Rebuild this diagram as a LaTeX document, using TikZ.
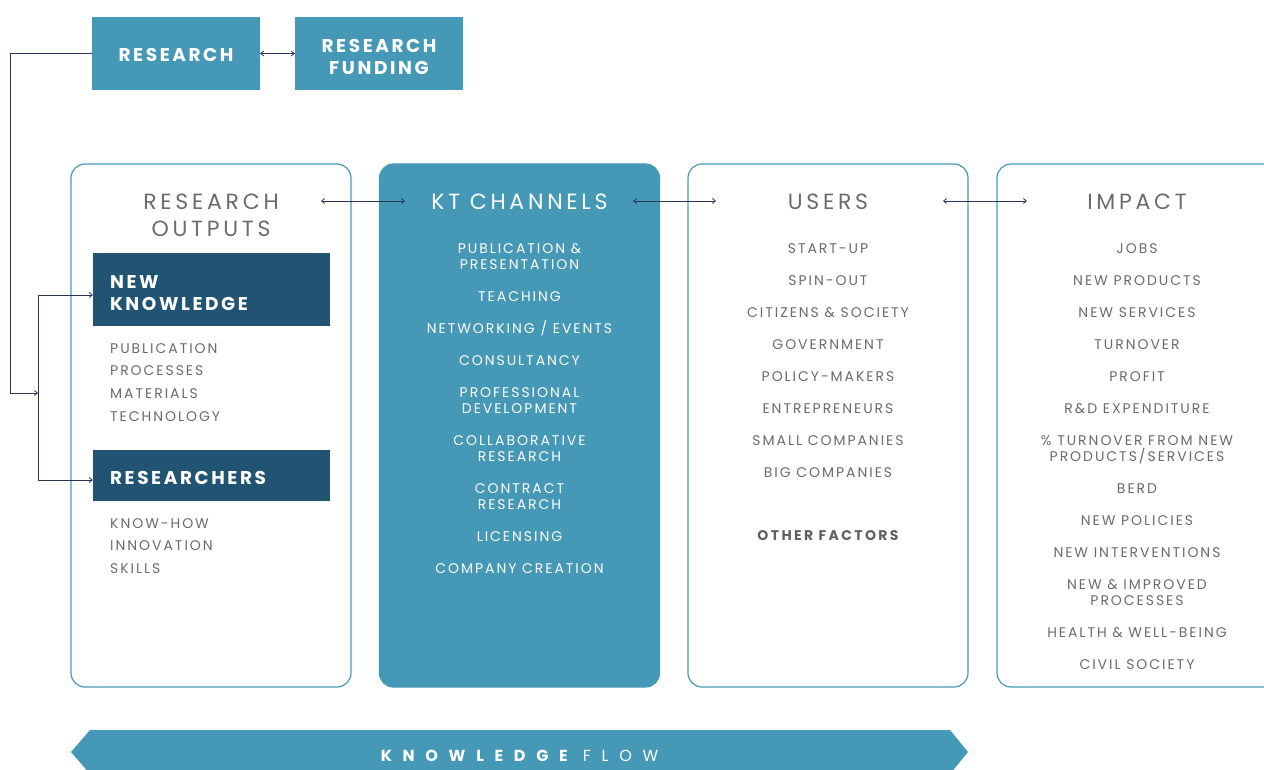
\documentclass[tikz,border=0pt]{standalone}
\usepackage{fontspec}
\setmainfont{Poppins}
\newfontfamily\ktitem[LetterSpace=14]{Poppins}
\newfontfamily\kthead[LetterSpace=17]{Poppins}
\newfontfamily\kttitle[LetterSpace=14]{Poppins}
\newfontfamily\ktflow[LetterSpace=67]{Poppins}
\usetikzlibrary{arrows.meta}
\definecolor{ktteal}{HTML}{4599B6}
\definecolor{ktdark}{HTML}{215373}
\definecolor{ktgrey}{HTML}{6B6B6B}
\definecolor{ktline}{HTML}{2A3358}
\tikzset{
topbox/.style={fill=ktteal, minimum width=168pt, minimum height=73pt},
darkbox/.style={fill=ktdark, minimum width=237pt},
title/.style={text=white, align=center, inner sep=0pt,
    font=\kttitle\bfseries\fontsize{18.5}{22}\selectfont},
colbox/.style={draw=ktteal, line width=1.2pt, rounded corners=14pt,
    minimum width=280pt, minimum height=523pt},
heading/.style={text=ktgrey, align=center, font=\kthead\fontsize{22}{27}\selectfont},
itemlist/.style={text=ktgrey, align=center, anchor=north, inner sep=0pt,
    font=\ktitem\fontsize{14}{16}\selectfont},
link/.style={draw=ktline, line width=0.8pt, {Straight Barb[length=3pt,width=5pt]}-{Straight Barb[length=3pt,width=5pt]}},
feed/.style={draw=ktline, line width=0.8pt, -{Straight Barb[length=3pt,width=5pt]}}
}

\begin{document}
\begin{tikzpicture}[x=1pt,y=-1pt]
	\useasboundingbox (0,0) rectangle (1264,770);
	% research and funding
	\node[topbox] (research) at (176,53.5) {};
	\node[topbox] (funding) at (379,53.5) {};
	\node[title] (research-t) at ([yshift=-1pt]research.center) {RESEARCH};
	\node[title] (funding-t) at ([yshift=-3pt]funding.center) {RESEARCH\\FUNDING};
	\draw[link] (research) -- (funding);

	% the four columns
	\node[colbox] (outputs) at (211,425.5) {};
	\node[colbox, fill=ktteal] (channels) at (519.5,425.5) {};
	\node[colbox] (users) at (828,425.5) {};
	\node[colbox] (impact) at (1137,425.5) {};

	\node[heading] (outputs-h) at (211,215.5) {RESEARCH\\OUTPUTS};
	\node[heading, text=white] (channels-h) at (519.5,202) {KT CHANNELS};
	\node[heading] (users-h) at (828,202) {USERS};
	\node[heading] (impact-h) at (1137,202) {IMPACT};

	\coordinate (o-r) at (321,201); \coordinate (c-l) at (405,201);
	\coordinate (c-r) at (633,201); \coordinate (u-l) at (716,201);
	\coordinate (u-r) at (943,201); \coordinate (i-l) at (1027,201);
	\draw[link] (o-r) -- (c-l);
	\draw[link] (c-r) -- (u-l);
	\draw[link] (u-r) -- (i-l);

	% research outputs
	\node[darkbox, minimum height=73pt] (knowledge) at (211.5,289.5) {};
	\node[title, text width=203pt, align=left] (knowledge-t) at ([yshift=-4pt]knowledge.center) {NEW\\KNOWLEDGE};
	\node[itemlist, anchor=north west, align=left, font=\ktitem\fontsize{14}{22.7}\selectfont]
		(knowledge-l) at (110,343) {PUBLICATION\\PROCESSES\\MATERIALS\\TECHNOLOGY};
	\node[darkbox, minimum height=51pt] (researchers) at (211.5,475.5) {};
	\node[title, text width=203pt, align=left] (researchers-t) at ([yshift=-2pt]researchers.center) {RESEARCHERS};
	\node[itemlist, anchor=north west, align=left, font=\ktitem\fontsize{14}{22.7}\selectfont]
		(researchers-l) at (110,518) {KNOW-HOW\\INNOVATION\\SKILLS};

	\coordinate (corner) at (10,393);
	\coordinate (fork) at (38,393);
	\draw[feed] (research.west) -| (corner) -- (fork);
	\draw[feed] (fork) |- ([yshift=-5.5pt]knowledge.west);
	\draw[feed] (fork) |- ([yshift=-4.5pt]researchers.west);

	% channels, users, impact
	\node[itemlist, text=white] (channels-l) at (519.5,243.5) {PUBLICATION \&\\PRESENTATION\\[16pt]TEACHING\\[16pt]NETWORKING / EVENTS\\[16pt]CONSULTANCY\\[16pt]PROFESSIONAL\\DEVELOPMENT\\[16pt]COLLABORATIVE\\RESEARCH\\[16pt]CONTRACT\\RESEARCH\\[16pt]LICENSING\\[16pt]COMPANY CREATION};
	\node[itemlist] (users-l) at (828,243.5) {START-UP\\[16pt]SPIN-OUT\\[16pt]CITIZENS \& SOCIETY\\[16pt]GOVERNMENT\\[16pt]POLICY-MAKERS\\[16pt]ENTREPRENEURS\\[16pt]SMALL COMPANIES\\[16pt]BIG COMPANIES};
	\node[text=ktgrey!90!black, font=\kthead\bfseries\fontsize{14}{16}\selectfont] (factors) at (828,536) {OTHER FACTORS};
	\node[itemlist] (impact-l) at (1137,243.5) {JOBS\\[16pt]NEW PRODUCTS\\[16pt]NEW SERVICES\\[16pt]TURNOVER\\[16pt]PROFIT\\[16pt]R\&D EXPENDITURE\\[16pt]\% TURNOVER FROM NEW\\PRODUCTS/SERVICES\\[16pt]BERD\\[16pt]NEW POLICIES\\[16pt]NEW INTERVENTIONS\\[16pt]NEW \& IMPROVED\\PROCESSES\\[16pt]HEALTH \& WELL-BEING\\[16pt]CIVIL SOCIETY};

	% knowledge flow banner
	\fill[ktteal] (90,730) -- (950,730) -- (968,752) -- (950,774) -- (90,774) -- (71,752) -- cycle;
	\node[text=white, font=\ktflow\fontsize{16}{18}\selectfont] (flow) at (519.5,756) {{\bfseries KNOWLEDGE} FLOW};
\end{tikzpicture}
\end{document}
